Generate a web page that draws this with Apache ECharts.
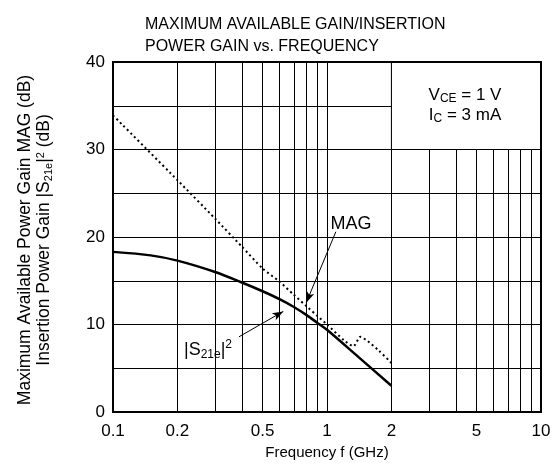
<!DOCTYPE html>
<html>
<head>
<meta charset="utf-8">
<script src="https://cdn.jsdelivr.net/npm/echarts/dist/echarts.min.js"></script>
<style>html,body{margin:0;padding:0;background:#fff}#c{width:555px;height:476px}</style>
</head>
<body>
<div id="c"></div>
<script>
// Data
const s21Freq = [0.1, 0.15, 0.2, 0.3, 0.4, 0.5, 0.6, 0.7, 0.8, 0.9, 1.0, 1.4, 2.0];
const s21Gain = [18.3, 17.9, 17.3, 16.0, 14.8, 13.8, 12.9, 12.0, 11.1, 10.2, 9.4, 6.3, 3.0];
const magFreq = [0.1, 0.2, 0.3, 0.4, 0.5, 0.6, 0.7, 0.8, 0.9, 1.0, 1.2, 1.33, 1.43, 1.55, 1.75, 2.0];
const magGain = [33.9, 26.5, 22.1, 18.9, 16.4, 14.9, 13.4, 12.1, 11.0, 10.0, 8.2, 7.5, 8.6, 8.1, 7.0, 5.6];
const xTickValues = [0.1, 0.2, 0.3, 0.4, 0.5, 0.6, 0.7, 0.8, 0.9, 1, 2, 3, 4, 5, 6, 7, 8, 9, 10];
const xLabelValues = [0.1, 0.2, 0.5, 1, 2, 5, 10];
const yLabelValues = [0, 10, 20, 30, 40];

const FONT = '"Liberation Sans", Arial, sans-serif';
const chart = echarts.init(document.getElementById('c'));
const GL = 113, GT = 62, GR = 14, GB = 64;
const W = 555, H = 476;

chart.setOption({
  animation: false,
  backgroundColor: '#fff',
  title: {
    text: 'MAXIMUM AVAILABLE GAIN/INSERTION\nPOWER GAIN vs. FREQUENCY',
    left: 140, top: 9,
    textStyle: { fontFamily: FONT, fontSize: 16, fontWeight: 'normal', color: '#000', lineHeight: 22 }
  },
  grid: { left: GL, top: GT, right: GR, bottom: GB, show: false },
  xAxis: {
    type: 'log', logBase: 10, min: 0.1, max: 10,
    name: 'Frequency f (GHz)', nameLocation: 'middle', nameGap: 30,
    nameTextStyle: { fontFamily: FONT, fontSize: 15, color: '#000' },
    axisLine: { show: false },
    axisTick: { show: true, length: 0, customValues: xTickValues },
    axisLabel: { customValues: xLabelValues, fontFamily: FONT, fontSize: 17, color: '#000', margin: 11 },
    splitLine: { show: true, lineStyle: { color: '#000', width: 1 } },
    minorTick: { show: false }, minorSplitLine: { show: false }
  },
  yAxis: {
    type: 'value', min: 0, max: 40, interval: 5,
    axisLine: { show: false },
    axisTick: { show: false },
    axisLabel: { customValues: yLabelValues, fontFamily: FONT, fontSize: 17, color: '#000', margin: 8,
      formatter: v => (v % 10 === 0 ? String(v) : '') },
    splitLine: { show: true, lineStyle: { color: '#000', width: 1 } }
  },
  series: [
    {
      name: 'MAG', type: 'line', z: 3,
      data: magFreq.map((f, i) => [f, magGain[i]]),
      showSymbol: false, smooth: 0.2,
      lineStyle: { color: '#000', width: 2, type: [2, 3] },
      markArea: {
        silent: true,
        itemStyle: { color: '#fff', borderColor: '#000', borderWidth: 1 },
        data: [[{ coord: [2, 40] }, { coord: [10, 30] }]]
      },
      markLine: {
        silent: true, symbol: ['none', 'arrow'], symbolSize: [6, 11],
        lineStyle: { color: '#000', width: 1, type: 'solid' },
        label: { show: false },
        data: [
          [{ coord: [1.10, 20.6] }, { coord: [0.80, 12.5] }],
          [{ coord: [0.388, 8.6] }, { coord: [0.625, 11.5] }]
        ]
      }
    },
    {
      name: '|S21e|2', type: 'line', z: 4,
      data: s21Freq.map((f, i) => [f, s21Gain[i]]),
      showSymbol: false, smooth: 0.3,
      lineStyle: { color: '#000', width: 2.5 }
    }
  ],
  graphic: [
    { type: 'rect', z: 100, silent: true,
      shape: { x: GL, y: GT, width: W - GL - GR, height: H - GT - GB },
      style: { fill: 'none', stroke: '#000', lineWidth: 2 } },
    { type: 'text', z: 100, x: 35, y: 240, rotation: Math.PI / 2,
      style: {
        text: '{a|Maximum Available Power Gain MAG (dB)}\n{a|Insertion Power Gain |S}{sub|21e}{a||}{sup|2}{a| (dB)}',
        align: 'center', verticalAlign: 'middle', fill: '#000',
        rich: {
          a: { fontFamily: FONT, fontSize: 17.5, lineHeight: 19, fill: '#000' },
          sub: { fontFamily: FONT, fontSize: 11, lineHeight: 13, verticalAlign: 'bottom', fill: '#000' },
          sup: { fontFamily: FONT, fontSize: 11, lineHeight: 12, verticalAlign: 'top', fill: '#000' }
        }
      } },
    { type: 'text', z: 100, x: 465, y: 105,
      style: {
        text: '{a|V}{sub|CE}{a| = 1 V}\n{a|I}{sub|C}{a| = 3 mA}',
        align: 'center', verticalAlign: 'middle', fill: '#000',
        rich: {
          a: { fontFamily: FONT, fontSize: 17, lineHeight: 20, fill: '#000' },
          sub: { fontFamily: FONT, fontSize: 12, lineHeight: 16, verticalAlign: 'bottom', fill: '#000' }
        }
      } },
    { type: 'text', z: 100, x: 351, y: 224,
      style: { text: 'MAG', font: '18px ' + FONT, align: 'center', verticalAlign: 'middle', fill: '#000' } },
    { type: 'text', z: 100, x: 208, y: 350,
      style: {
        text: '{a||S}{sub|21e}{a||}{sup|2}',
        align: 'center', verticalAlign: 'middle', fill: '#000',
        rich: {
          a: { fontFamily: FONT, fontSize: 18, lineHeight: 22, fill: '#000' },
          sub: { fontFamily: FONT, fontSize: 12, lineHeight: 16, verticalAlign: 'bottom', fill: '#000' },
          sup: { fontFamily: FONT, fontSize: 12, lineHeight: 13, verticalAlign: 'top', fill: '#000' }
        }
      } }
  ]
});
</script>
</body>
</html>
